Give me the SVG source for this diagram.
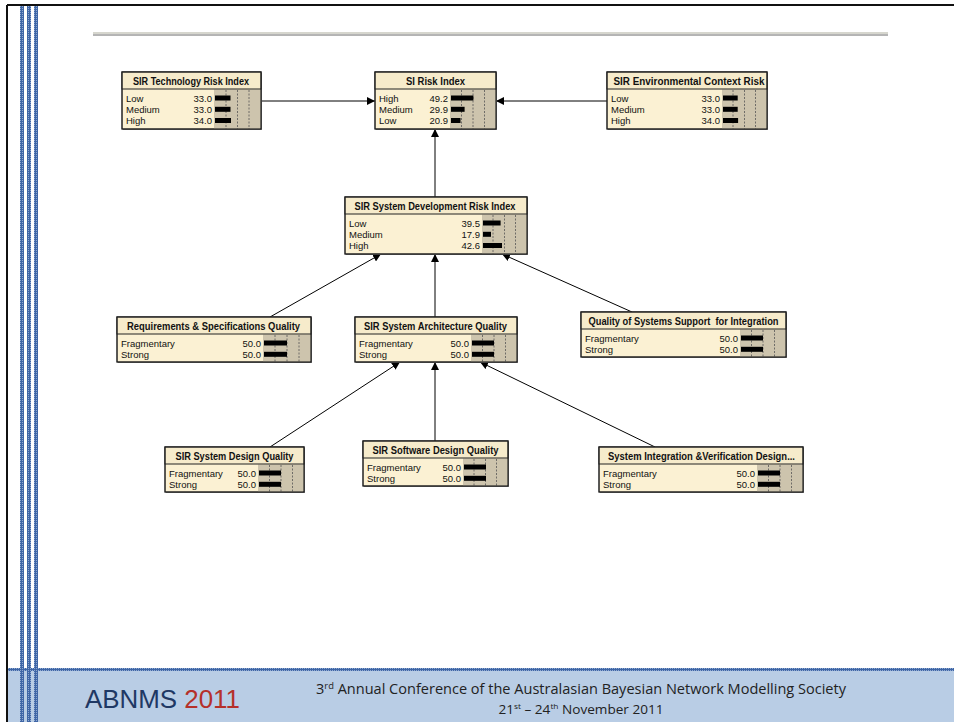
<svg xmlns="http://www.w3.org/2000/svg" width="954" height="722" viewBox="0 0 954 722">
<defs>
<pattern id="chk" width="2" height="2" patternUnits="userSpaceOnUse">
<rect width="2" height="2" fill="#3f66a6"/>
<rect width="1" height="1" fill="#8fa8d0"/>
</pattern>
<marker id="ah" viewBox="0 0 10 10" refX="10" refY="5" markerWidth="8" markerHeight="8" markerUnits="userSpaceOnUse" orient="auto">
<path d="M0,0 L10,5 L0,10 z" fill="#000"/>
</marker>
</defs>
<style>
.shadow{fill:#8c8c8c}
.tb{fill:#f6ebcb;stroke:#222;stroke-width:1}
.bd{fill:#fbf1d3;stroke:#222;stroke-width:1}
.ol{fill:none;stroke:#222;stroke-width:1}
.ba{fill:#cdc4ad}
.dl{stroke:#555;stroke-width:0.8;stroke-dasharray:2,1.5}
.bar{fill:#000}
.tt{font-family:"Liberation Sans",Arial,sans-serif;font-weight:bold;font-size:10px;fill:#111;text-anchor:middle}
.lb{font-family:"Liberation Sans",Arial,sans-serif;font-size:9.5px;fill:#111}
.vl{font-family:"Liberation Sans",Arial,sans-serif;font-size:9.5px;fill:#111;text-anchor:end}
.conn line{stroke:#000;stroke-width:1;marker-end:url(#ah)}
</style>
<rect width="954" height="722" fill="#fff"/>
<!-- frame -->
<line x1="7" y1="5" x2="954" y2="5" stroke="#111" stroke-width="2"/>
<line x1="7" y1="5" x2="7" y2="722" stroke="#111" stroke-width="2"/>
<rect x="20" y="6" width="4" height="716" fill="url(#chk)"/>
<rect x="27" y="6" width="4" height="716" fill="url(#chk)"/>
<rect x="34" y="6" width="4" height="716" fill="url(#chk)"/>
<!-- top rule -->
<line x1="93" y1="33" x2="888" y2="33" stroke="#d6d6ce" stroke-width="2"/>
<line x1="93" y1="35" x2="888" y2="35" stroke="#6a6a6a" stroke-width="1"/>
<!-- footer -->
<rect x="8" y="669" width="946" height="53" fill="#b9cde5"/>
<rect x="8" y="668" width="946" height="3" fill="url(#chk)"/>
<rect x="20" y="669" width="4" height="53" fill="url(#chk)"/>
<rect x="27" y="669" width="4" height="53" fill="url(#chk)"/>
<rect x="34" y="669" width="4" height="53" fill="url(#chk)"/>
<text x="85" y="708" font-family="Liberation Sans,Arial,sans-serif" font-size="25" textLength="155" lengthAdjust="spacingAndGlyphs"><tspan fill="#1f3864">ABNMS </tspan><tspan fill="#b5302a">2011</tspan></text>
<text x="581" y="694" font-family="Open Sans,Noto Sans,sans-serif" font-size="14" fill="#222" text-anchor="middle" textLength="530" lengthAdjust="spacingAndGlyphs">3<tspan font-size="9" dy="-5">rd</tspan><tspan dy="5"> Annual Conference of the Australasian Bayesian Network Modelling Society</tspan></text>
<text x="581" y="714" font-family="Open Sans,Noto Sans,sans-serif" font-size="13" fill="#222" text-anchor="middle" textLength="165" lengthAdjust="spacingAndGlyphs">21<tspan font-size="8" dy="-5">st</tspan><tspan dy="5"> – 24</tspan><tspan font-size="8" dy="-5">th</tspan><tspan dy="5"> November 2011</tspan></text>

<!-- connectors -->
<g id="connectors" class="conn">
<line x1="261" y1="101" x2="375" y2="101"/>
<line x1="607" y1="101" x2="496" y2="101"/>
<line x1="435" y1="197" x2="435" y2="129"/>
<line x1="270" y1="317" x2="381" y2="254"/>
<line x1="435" y1="317" x2="435" y2="254"/>
<line x1="632" y1="312" x2="502" y2="254"/>
<line x1="270" y1="447" x2="400" y2="362"/>
<line x1="435" y1="441" x2="435" y2="362"/>
<line x1="655" y1="447" x2="480" y2="362"/>
</g>

<!-- N1 -->
<g id="tech">
<rect class="shadow" x="123" y="73" width="139" height="57"/>
<rect class="bd" x="122" y="72" width="139" height="57"/>
<rect class="ba" x="214" y="89.5" width="46.5" height="39"/>
<line class="dl" x1="226" y1="90" x2="226" y2="129"/><line class="dl" x1="237.5" y1="90" x2="237.5" y2="129"/><line class="dl" x1="249" y1="90" x2="249" y2="129"/>
<rect class="tb" x="122" y="72" width="139" height="17"/>
<rect class="ol" x="122" y="72" width="139" height="57"/>
<text class="tt" x="191" y="85" textLength="116" lengthAdjust="spacingAndGlyphs">SIR Technology Risk Index</text>
<text class="lb" x="126" y="101.5">Low</text><text class="vl" x="212" y="101.5">33.0</text><rect class="bar" x="215" y="95.5" width="15.5" height="5"/>
<text class="lb" x="126" y="112.8">Medium</text><text class="vl" x="212" y="112.8">33.0</text><rect class="bar" x="215" y="106.8" width="15.5" height="5"/>
<text class="lb" x="126" y="124">High</text><text class="vl" x="212" y="124">34.0</text><rect class="bar" x="215" y="118" width="16" height="5"/>
</g>

<!-- N2 -->
<g id="si">
<rect class="shadow" x="376" y="73" width="121" height="57"/>
<rect class="bd" x="375" y="72" width="121" height="57"/>
<rect class="ba" x="450" y="89.5" width="45.5" height="39"/>
<line class="dl" x1="461.5" y1="90" x2="461.5" y2="129"/><line class="dl" x1="473" y1="90" x2="473" y2="129"/><line class="dl" x1="484.5" y1="90" x2="484.5" y2="129"/>
<rect class="tb" x="375" y="72" width="121" height="17"/>
<rect class="ol" x="375" y="72" width="121" height="57"/>
<text class="tt" x="435.5" y="85" textLength="59" lengthAdjust="spacingAndGlyphs">SI Risk Index</text>
<text class="lb" x="379" y="101.5">High</text><text class="vl" x="448" y="101.5">49.2</text><rect class="bar" x="451" y="95.5" width="22.4" height="5"/>
<text class="lb" x="379" y="112.8">Medium</text><text class="vl" x="448" y="112.8">29.9</text><rect class="bar" x="451" y="106.8" width="13.6" height="5"/>
<text class="lb" x="379" y="124">Low</text><text class="vl" x="448" y="124">20.9</text><rect class="bar" x="451" y="118" width="9.5" height="5"/>
</g>

<!-- N3 -->
<g id="env">
<rect class="shadow" x="608" y="73" width="160" height="57"/>
<rect class="bd" x="607" y="72" width="160" height="57"/>
<rect class="ba" x="722" y="89.5" width="44.5" height="39"/>
<line class="dl" x1="733" y1="90" x2="733" y2="129"/><line class="dl" x1="744.5" y1="90" x2="744.5" y2="129"/><line class="dl" x1="755.5" y1="90" x2="755.5" y2="129"/>
<rect class="tb" x="607" y="72" width="160" height="17"/>
<rect class="ol" x="607" y="72" width="160" height="57"/>
<text class="tt" x="689" y="85" textLength="151" lengthAdjust="spacingAndGlyphs">SIR Environmental Context Risk</text>
<text class="lb" x="611" y="101.5">Low</text><text class="vl" x="720" y="101.5">33.0</text><rect class="bar" x="723" y="95.5" width="14.7" height="5"/>
<text class="lb" x="611" y="112.8">Medium</text><text class="vl" x="720" y="112.8">33.0</text><rect class="bar" x="723" y="106.8" width="14.7" height="5"/>
<text class="lb" x="611" y="124">High</text><text class="vl" x="720" y="124">34.0</text><rect class="bar" x="723" y="118" width="15.1" height="5"/>
</g>

<!-- N4 -->
<g id="dev">
<rect class="shadow" x="346" y="198" width="182" height="57"/>
<rect class="bd" x="345" y="197" width="182" height="57"/>
<rect class="ba" x="482" y="214.5" width="44.5" height="39"/>
<line class="dl" x1="493" y1="215" x2="493" y2="254"/><line class="dl" x1="504.5" y1="215" x2="504.5" y2="254"/><line class="dl" x1="515.5" y1="215" x2="515.5" y2="254"/>
<rect class="tb" x="345" y="197" width="182" height="17"/>
<rect class="ol" x="345" y="197" width="182" height="57"/>
<text class="tt" x="435" y="210" textLength="161" lengthAdjust="spacingAndGlyphs">SIR System Development Risk Index</text>
<text class="lb" x="349" y="226.5">Low</text><text class="vl" x="480" y="226.5">39.5</text><rect class="bar" x="483" y="220.5" width="17.6" height="5"/>
<text class="lb" x="349" y="237.8">Medium</text><text class="vl" x="480" y="237.8">17.9</text><rect class="bar" x="483" y="231.8" width="8" height="5"/>
<text class="lb" x="349" y="249">High</text><text class="vl" x="480" y="249">42.6</text><rect class="bar" x="483" y="243" width="19" height="5"/>
</g>

<!-- N5 -->
<g id="req">
<rect class="shadow" x="118" y="318" width="194" height="45"/>
<rect class="bd" x="117" y="317" width="194" height="45"/>
<rect class="ba" x="263" y="334.5" width="47.5" height="27"/>
<line class="dl" x1="275" y1="335" x2="275" y2="362"/><line class="dl" x1="287" y1="335" x2="287" y2="362"/><line class="dl" x1="299" y1="335" x2="299" y2="362"/>
<rect class="tb" x="117" y="317" width="194" height="17"/>
<rect class="ol" x="117" y="317" width="194" height="45"/>
<text class="tt" x="213.5" y="330" textLength="173" lengthAdjust="spacingAndGlyphs">Requirements &amp; Specifications Quality</text>
<text class="lb" x="121" y="346.5">Fragmentary</text><text class="vl" x="261" y="346.5">50.0</text><rect class="bar" x="264" y="340.5" width="23" height="5"/>
<text class="lb" x="121" y="357.8">Strong</text><text class="vl" x="261" y="357.8">50.0</text><rect class="bar" x="264" y="351.8" width="23" height="5"/>
</g>

<!-- N6 -->
<g id="arch">
<rect class="shadow" x="356" y="318" width="162" height="45"/>
<rect class="bd" x="355" y="317" width="162" height="45"/>
<rect class="ba" x="471" y="334.5" width="45.5" height="27"/>
<line class="dl" x1="482.5" y1="335" x2="482.5" y2="362"/><line class="dl" x1="494" y1="335" x2="494" y2="362"/><line class="dl" x1="505.5" y1="335" x2="505.5" y2="362"/>
<rect class="tb" x="355" y="317" width="162" height="17"/>
<rect class="ol" x="355" y="317" width="162" height="45"/>
<text class="tt" x="435.5" y="330" textLength="143" lengthAdjust="spacingAndGlyphs">SIR System Architecture Quality</text>
<text class="lb" x="359" y="346.5">Fragmentary</text><text class="vl" x="469" y="346.5">50.0</text><rect class="bar" x="472" y="340.5" width="22" height="5"/>
<text class="lb" x="359" y="357.8">Strong</text><text class="vl" x="469" y="357.8">50.0</text><rect class="bar" x="472" y="351.8" width="22" height="5"/>
</g>

<!-- N7 -->
<g id="support">
<rect class="shadow" x="582" y="313" width="205" height="45"/>
<rect class="bd" x="581" y="312" width="205" height="45"/>
<rect class="ba" x="740" y="329.5" width="45.5" height="27"/>
<line class="dl" x1="751.5" y1="330" x2="751.5" y2="357"/><line class="dl" x1="763" y1="330" x2="763" y2="357"/><line class="dl" x1="774.5" y1="330" x2="774.5" y2="357"/>
<rect class="tb" x="581" y="312" width="205" height="17"/>
<rect class="ol" x="581" y="312" width="205" height="45"/>
<text class="tt" x="683.5" y="325" textLength="190" lengthAdjust="spacingAndGlyphs" style="white-space:pre">Quality of Systems Support  for Integration</text>
<text class="lb" x="585" y="341.5">Fragmentary</text><text class="vl" x="738" y="341.5">50.0</text><rect class="bar" x="741" y="335.5" width="22" height="5"/>
<text class="lb" x="585" y="352.8">Strong</text><text class="vl" x="738" y="352.8">50.0</text><rect class="bar" x="741" y="346.8" width="22" height="5"/>
</g>

<!-- N8 -->
<g id="design">
<rect class="shadow" x="166" y="448" width="139" height="45"/>
<rect class="bd" x="165" y="447" width="139" height="45"/>
<rect class="ba" x="258" y="464.5" width="45.5" height="27"/>
<line class="dl" x1="269.5" y1="465" x2="269.5" y2="492"/><line class="dl" x1="281" y1="465" x2="281" y2="492"/><line class="dl" x1="292.5" y1="465" x2="292.5" y2="492"/>
<rect class="tb" x="165" y="447" width="139" height="17"/>
<rect class="ol" x="165" y="447" width="139" height="45"/>
<text class="tt" x="234.5" y="460" textLength="118" lengthAdjust="spacingAndGlyphs">SIR System Design Quality</text>
<text class="lb" x="169" y="476.5">Fragmentary</text><text class="vl" x="256" y="476.5">50.0</text><rect class="bar" x="259" y="470.5" width="22" height="5"/>
<text class="lb" x="169" y="487.8">Strong</text><text class="vl" x="256" y="487.8">50.0</text><rect class="bar" x="259" y="481.8" width="22" height="5"/>
</g>

<!-- N9 -->
<g id="software">
<rect class="shadow" x="364" y="442" width="145" height="45"/>
<rect class="bd" x="363" y="441" width="145" height="45"/>
<rect class="ba" x="463" y="458.5" width="44.5" height="27"/>
<line class="dl" x1="474" y1="459" x2="474" y2="486"/><line class="dl" x1="485.5" y1="459" x2="485.5" y2="486"/><line class="dl" x1="496.5" y1="459" x2="496.5" y2="486"/>
<rect class="tb" x="363" y="441" width="145" height="17"/>
<rect class="ol" x="363" y="441" width="145" height="45"/>
<text class="tt" x="435.5" y="454" textLength="126" lengthAdjust="spacingAndGlyphs">SIR Software Design Quality</text>
<text class="lb" x="367" y="470.5">Fragmentary</text><text class="vl" x="461" y="470.5">50.0</text><rect class="bar" x="464" y="464.5" width="22" height="5"/>
<text class="lb" x="367" y="481.8">Strong</text><text class="vl" x="461" y="481.8">50.0</text><rect class="bar" x="464" y="475.8" width="22" height="5"/>
</g>

<!-- N10 -->
<g id="sysint">
<rect class="shadow" x="600" y="448" width="204" height="45"/>
<rect class="bd" x="599" y="447" width="204" height="45"/>
<rect class="ba" x="757" y="464.5" width="45.5" height="27"/>
<line class="dl" x1="768.5" y1="465" x2="768.5" y2="492"/><line class="dl" x1="780" y1="465" x2="780" y2="492"/><line class="dl" x1="791.5" y1="465" x2="791.5" y2="492"/>
<rect class="tb" x="599" y="447" width="204" height="17"/>
<rect class="ol" x="599" y="447" width="204" height="45"/>
<text class="tt" x="701.5" y="460" textLength="187" lengthAdjust="spacingAndGlyphs">System Integration &amp;Verification Design...</text>
<text class="lb" x="603" y="476.5">Fragmentary</text><text class="vl" x="755" y="476.5">50.0</text><rect class="bar" x="758" y="470.5" width="22" height="5"/>
<text class="lb" x="603" y="487.8">Strong</text><text class="vl" x="755" y="487.8">50.0</text><rect class="bar" x="758" y="481.8" width="22" height="5"/>
</g>
</svg>
